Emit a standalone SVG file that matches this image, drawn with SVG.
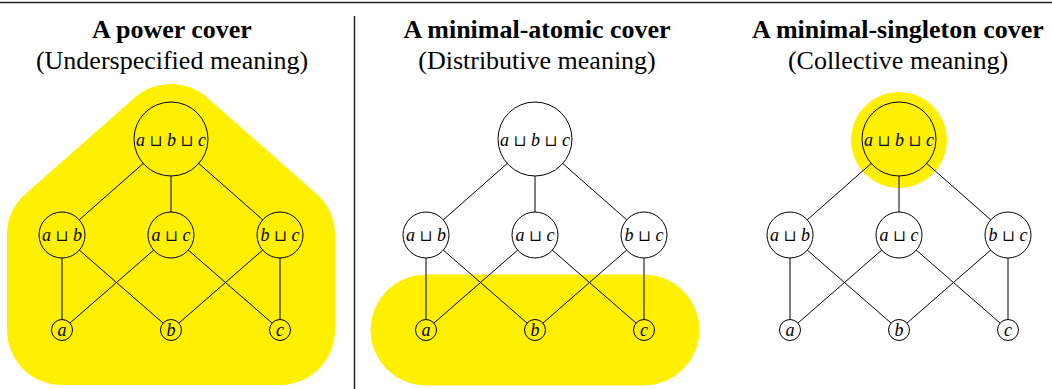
<svg xmlns="http://www.w3.org/2000/svg" width="1052" height="389" viewBox="0 0 1052 389">
  <style>
    .title { font-size: 26px; font-weight: bold; text-anchor: middle; fill: #000; }
    .sub { font-size: 26px; text-anchor: middle; fill: #000; }
    .lbl { font-style: italic; font-size: 18px; text-anchor: middle; fill: #000; }
    .op { font-style: normal; font-size: 15.5px; }
    .ring { fill: none; stroke: #000; stroke-width: 1; }
    .edge { stroke: #000; stroke-width: 1; fill: none; }
    .cover { fill: #FFF000; stroke: #FFF000; }
    .rule { stroke: #222; stroke-width: 1.5; }
  </style>

  <!-- frame rules -->
  <line class="rule" x1="0" y1="2.5" x2="1052" y2="2.5"/>
  <line class="rule" x1="354.5" y1="16" x2="354.5" y2="389" stroke-width="1.2"/>

  <!-- highlighted covers -->
  <g id="covers">
    <polygon class="cover" points="171,139 280,235 280,330 62,330 62,235" stroke-width="110" stroke-linejoin="round"/>
    <rect class="cover" x="371" y="275" width="328" height="110" rx="55" stroke="none"/>
    <circle class="cover" cx="899" cy="140" r="47.5" stroke="none"/>
  </g>

  <!-- titles -->
  <g id="titles" font-family="'Liberation Serif', serif">
    <text class="title" x="172" y="38">A power cover</text>
    <text class="sub" x="172" y="69">(Underspecified meaning)</text>
    <text class="title" x="537" y="38">A minimal-atomic cover</text>
    <text class="sub" x="537" y="69">(Distributive meaning)</text>
    <text class="title" x="898" y="38">A minimal-singleton cover</text>
    <text class="sub" x="898" y="69">(Collective meaning)</text>
  </g>

  <!-- lattice 1 -->
  <g id="lattice-power" font-family="'Liberation Serif', serif">
    <g id="p1-edges" class="edge">
      <line x1="143.2" y1="163.5" x2="79.3" y2="219.8"/>
      <line x1="171" y1="176" x2="171" y2="212"/>
      <line x1="198.8" y1="163.5" x2="262.7" y2="219.8"/>
      <line x1="62" y1="258" x2="62" y2="319.5"/>
      <line x1="79.3" y1="250.1" x2="163.1" y2="323.1"/>
      <line x1="153.7" y1="250.1" x2="69.9" y2="323.1"/>
      <line x1="188.3" y1="250.1" x2="272.1" y2="323.1"/>
      <line x1="262.7" y1="250.1" x2="178.9" y2="323.1"/>
      <line x1="280" y1="258" x2="280" y2="319.5"/>
    </g>
    <g id="p1-abc"><circle class="ring" cx="171" cy="139" r="37"/><text class="lbl" x="171" y="146">a <tspan class="op" font-family="'DejaVu Serif', serif">⊔</tspan> b <tspan class="op" font-family="'DejaVu Serif', serif">⊔</tspan> c</text></g>
    <g id="p1-ab"><circle class="ring" cx="62" cy="235" r="23"/><text class="lbl" x="62" y="241">a <tspan class="op" font-family="'DejaVu Serif', serif">⊔</tspan> b</text></g>
    <g id="p1-ac"><circle class="ring" cx="171" cy="235" r="23"/><text class="lbl" x="171" y="241">a <tspan class="op" font-family="'DejaVu Serif', serif">⊔</tspan> c</text></g>
    <g id="p1-bc"><circle class="ring" cx="280" cy="235" r="23"/><text class="lbl" x="280" y="241">b <tspan class="op" font-family="'DejaVu Serif', serif">⊔</tspan> c</text></g>
    <g id="p1-a"><circle class="ring" cx="62" cy="330" r="10.5"/><text class="lbl" x="62" y="336">a</text></g>
    <g id="p1-b"><circle class="ring" cx="171" cy="330" r="10.5"/><text class="lbl" x="171" y="336">b</text></g>
    <g id="p1-c"><circle class="ring" cx="280" cy="330" r="10.5"/><text class="lbl" x="280" y="336">c</text></g>
  </g>

  <!-- lattice 2 -->
  <g id="lattice-atomic" transform="translate(364,0)" font-family="'Liberation Serif', serif">
    <g id="p2-edges" class="edge">
      <line x1="143.2" y1="163.5" x2="79.3" y2="219.8"/>
      <line x1="171" y1="176" x2="171" y2="212"/>
      <line x1="198.8" y1="163.5" x2="262.7" y2="219.8"/>
      <line x1="62" y1="258" x2="62" y2="319.5"/>
      <line x1="79.3" y1="250.1" x2="163.1" y2="323.1"/>
      <line x1="153.7" y1="250.1" x2="69.9" y2="323.1"/>
      <line x1="188.3" y1="250.1" x2="272.1" y2="323.1"/>
      <line x1="262.7" y1="250.1" x2="178.9" y2="323.1"/>
      <line x1="280" y1="258" x2="280" y2="319.5"/>
    </g>
    <g id="p2-abc"><circle class="ring" cx="171" cy="139" r="37"/><text class="lbl" x="171" y="146">a <tspan class="op" font-family="'DejaVu Serif', serif">⊔</tspan> b <tspan class="op" font-family="'DejaVu Serif', serif">⊔</tspan> c</text></g>
    <g id="p2-ab"><circle class="ring" cx="62" cy="235" r="23"/><text class="lbl" x="62" y="241">a <tspan class="op" font-family="'DejaVu Serif', serif">⊔</tspan> b</text></g>
    <g id="p2-ac"><circle class="ring" cx="171" cy="235" r="23"/><text class="lbl" x="171" y="241">a <tspan class="op" font-family="'DejaVu Serif', serif">⊔</tspan> c</text></g>
    <g id="p2-bc"><circle class="ring" cx="280" cy="235" r="23"/><text class="lbl" x="280" y="241">b <tspan class="op" font-family="'DejaVu Serif', serif">⊔</tspan> c</text></g>
    <g id="p2-a"><circle class="ring" cx="62" cy="330" r="10.5"/><text class="lbl" x="62" y="336">a</text></g>
    <g id="p2-b"><circle class="ring" cx="171" cy="330" r="10.5"/><text class="lbl" x="171" y="336">b</text></g>
    <g id="p2-c"><circle class="ring" cx="280" cy="330" r="10.5"/><text class="lbl" x="280" y="336">c</text></g>
  </g>

  <!-- lattice 3 -->
  <g id="lattice-singleton" transform="translate(728,0)" font-family="'Liberation Serif', serif">
    <g id="p3-edges" class="edge">
      <line x1="143.2" y1="163.5" x2="79.3" y2="219.8"/>
      <line x1="171" y1="176" x2="171" y2="212"/>
      <line x1="198.8" y1="163.5" x2="262.7" y2="219.8"/>
      <line x1="62" y1="258" x2="62" y2="319.5"/>
      <line x1="79.3" y1="250.1" x2="163.1" y2="323.1"/>
      <line x1="153.7" y1="250.1" x2="69.9" y2="323.1"/>
      <line x1="188.3" y1="250.1" x2="272.1" y2="323.1"/>
      <line x1="262.7" y1="250.1" x2="178.9" y2="323.1"/>
      <line x1="280" y1="258" x2="280" y2="319.5"/>
    </g>
    <g id="p3-abc"><circle class="ring" cx="171" cy="139" r="37"/><text class="lbl" x="171" y="146">a <tspan class="op" font-family="'DejaVu Serif', serif">⊔</tspan> b <tspan class="op" font-family="'DejaVu Serif', serif">⊔</tspan> c</text></g>
    <g id="p3-ab"><circle class="ring" cx="62" cy="235" r="23"/><text class="lbl" x="62" y="241">a <tspan class="op" font-family="'DejaVu Serif', serif">⊔</tspan> b</text></g>
    <g id="p3-ac"><circle class="ring" cx="171" cy="235" r="23"/><text class="lbl" x="171" y="241">a <tspan class="op" font-family="'DejaVu Serif', serif">⊔</tspan> c</text></g>
    <g id="p3-bc"><circle class="ring" cx="280" cy="235" r="23"/><text class="lbl" x="280" y="241">b <tspan class="op" font-family="'DejaVu Serif', serif">⊔</tspan> c</text></g>
    <g id="p3-a"><circle class="ring" cx="62" cy="330" r="10.5"/><text class="lbl" x="62" y="336">a</text></g>
    <g id="p3-b"><circle class="ring" cx="171" cy="330" r="10.5"/><text class="lbl" x="171" y="336">b</text></g>
    <g id="p3-c"><circle class="ring" cx="280" cy="330" r="10.5"/><text class="lbl" x="280" y="336">c</text></g>
  </g>
</svg>
